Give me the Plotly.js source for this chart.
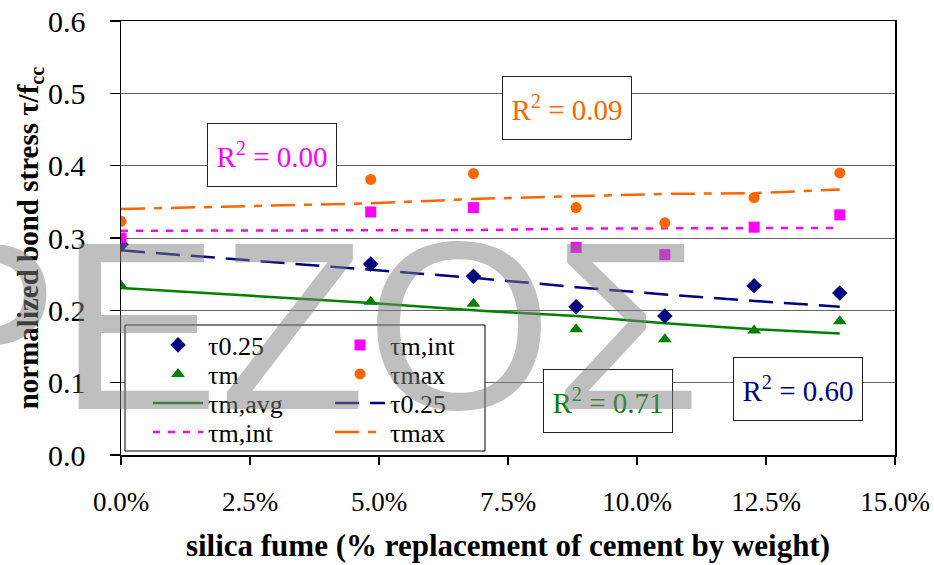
<!DOCTYPE html>
<html>
<head>
<meta charset="utf-8">
<script src="https://cdn.plot.ly/plotly-3.0.1.min.js"></script>
<style>html,body{margin:0;padding:0;background:#fff}#chart{width:934px;height:565px}</style>
</head>
<body>
<div id="chart"></div>
<script>
// silica fume replacement (%)
const silicaFume = [0, 4.84, 6.83, 8.82, 10.54, 12.27, 13.93];
// measured normalized bond stresses
const tau025 = [0.291, 0.264, 0.247, 0.205, 0.192, 0.234, 0.224];
const tauM = [0.234, 0.212, 0.209, 0.174, 0.160, 0.172, 0.185];
const tauMint = [0.300, 0.336, 0.342, 0.287, 0.277, 0.315, 0.332];
const tauMax = [0.323, 0.381, 0.389, 0.342, 0.321, 0.356, 0.390];
// trend lines
const tauMavgFit = [0.231, 0.210, 0.200, 0.192, 0.182, 0.174, 0.168];
const tau025Fit = [0.283, 0.256, 0.245, 0.232, 0.222, 0.213, 0.205];
const tauMintFit = [0.310, 0.310, 0.311, 0.313, 0.313, 0.313, 0.314];
const tauMaxFit = [0.340, 0.348, 0.354, 0.358, 0.361, 0.362, 0.367];
// R² labels
const r2Labels = ['R<sup>2</sup> = 0.00', 'R<sup>2</sup> = 0.09', 'R<sup>2</sup> = 0.71', 'R<sup>2</sup> = 0.60'];
const xTickVals = [0, 2.5, 5, 7.5, 10, 12.5, 15];
const xTickText = ['0.0%', '2.5%', '5.0%', '7.5%', '10.0%', '12.5%', '15.0%'];
const yTickVals = [0, 0.1, 0.2, 0.3, 0.4, 0.5, 0.6];
const yTickText = ['0.0', '0.1', '0.2', '0.3', '0.4', '0.5', '0.6'];

const NAVY = '#000080', GREEN = '#008000', MAGENTA = '#FF00FF', ORANGE = '#FF6600';
const FONT = 'Liberation Serif';

// plot area in pixels
const L = 121, R = 895, T = 21, B = 455;
const px = v => (v - L) / (R - L);
const py = v => (B - v) / (B - T);

const traces = [
  {x: silicaFume, y: tauMavgFit, mode: 'lines', name: 'τm,avg', legend: 'legend5',
   line: {color: GREEN, width: 2.5}},
  {x: silicaFume, y: tau025Fit, mode: 'lines', name: 'τ0.25', legend: 'legend6',
   line: {color: NAVY, width: 2.5, dash: '24px,11px'}},
  {x: silicaFume, y: tauMintFit, mode: 'lines', name: 'τm,int', legend: 'legend7',
   line: {color: MAGENTA, width: 2.5, dash: '7px,8px'}},
  {x: silicaFume, y: tauMaxFit, mode: 'lines', name: 'τmax', legend: 'legend8',
   line: {color: ORANGE, width: 2.5, dash: '24px,9px,8px,9px'}},
  {x: silicaFume, y: tau025, mode: 'markers', name: 'τ0.25', legend: 'legend',
   marker: {symbol: 'diamond', color: NAVY, size: 12}},
  {x: silicaFume, y: tauMint, mode: 'markers', name: 'τm,int', legend: 'legend2',
   marker: {symbol: 'square', color: MAGENTA, size: 11}},
  {x: silicaFume, y: tauM, mode: 'markers', name: 'τm', legend: 'legend3',
   marker: {symbol: 'triangle-up', color: GREEN, size: 12}},
  {x: silicaFume, y: tauMax, mode: 'markers', name: 'τmax', legend: 'legend4',
   marker: {symbol: 'circle', color: ORANGE, size: 11}}
];

function r2Box(text, color, cx, cy) {
  return {xref: 'paper', yref: 'paper', x: px(cx), y: py(cy), xanchor: 'center', yanchor: 'middle',
    text: text, showarrow: false, font: {family: FONT, size: 29, color: color},
    bgcolor: '#ffffff', bordercolor: '#222', borderwidth: 1, borderpad: 0, width: 128, height: 62};
}

function legendAt(left, cy) {
  return {orientation: 'v', bgcolor: 'rgba(0,0,0,0)', borderwidth: 0,
    font: {family: FONT, size: 26, color: '#000'}, itemwidth: 50,
    xanchor: 'left', yanchor: 'middle', x: px(left), y: py(cy)};
}
const col1 = 148, col2 = 330;
const rows = [345, 374, 403, 432];

const layout = {
  width: 934, height: 565,
  margin: {l: L, r: 934 - R, t: T, b: 565 - B},
  paper_bgcolor: '#fff', plot_bgcolor: '#fff',
  font: {family: FONT, color: '#000'},
  showlegend: true,
  legend: legendAt(col1, rows[0]),
  legend2: legendAt(col2, rows[0]),
  legend3: legendAt(col1, rows[1]),
  legend4: legendAt(col2, rows[1]),
  legend5: legendAt(col1, rows[2]),
  legend6: legendAt(col2, rows[2]),
  legend7: legendAt(col1, rows[3]),
  legend8: legendAt(col2, rows[3]),
  xaxis: {
    range: [0, 15], tickmode: 'array', tickvals: xTickVals, ticktext: xTickText,
    showgrid: false, zeroline: false, showline: true, linecolor: '#000', linewidth: 1.5, mirror: true,
    ticks: 'outside', ticklen: 8, tickcolor: '#000', tickwidth: 1.2, ticklabelstandoff: 14,
    tickfont: {family: FONT, size: 27, color: '#000'},
    title: {text: 'silica fume (% replacement of cement by weight)', standoff: 18,
      font: {family: FONT, size: 31, color: '#000', weight: 'bold'}}
  },
  yaxis: {
    range: [0, 0.6], tickmode: 'array', tickvals: yTickVals, ticktext: yTickText,
    showgrid: true, gridcolor: '#666', gridwidth: 1, zeroline: false,
    showline: true, linecolor: '#000', linewidth: 1.5, mirror: true,
    ticks: 'outside', ticklen: 10, tickcolor: '#000', tickwidth: 1.2, ticklabelstandoff: 18,
    tickfont: {family: FONT, size: 30, color: '#000'},
    title: {text: 'normalized bond stress τ/f<sub>cc</sub>', standoff: 0,
      font: {family: FONT, size: 29, color: '#000', weight: 'bold'}}
  },
  shapes: [
    {type: 'rect', xref: 'paper', yref: 'paper', x0: px(125), x1: px(485), y0: py(451), y1: py(325),
     line: {color: '#000', width: 1}, fillcolor: '#fff', layer: 'above'}
  ],
  annotations: [
    r2Box(r2Labels[0], MAGENTA, 272, 155),
    r2Box(r2Labels[1], ORANGE, 567, 108),
    r2Box(r2Labels[2], GREEN, 608, 401),
    r2Box(r2Labels[3], NAVY, 798, 389),
    {xref: 'paper', yref: 'paper', x: px(300), y: py(326), xanchor: 'center', yanchor: 'middle',
     text: 'ΡΕΖΟΣ', showarrow: false,
     font: {family: 'Liberation Sans', size: 240, color: 'rgba(128,128,128,0.5)'}}
  ]
};

Plotly.newPlot('chart', traces, layout, {displayModeBar: false, staticPlot: true});
</script>
</body>
</html>
